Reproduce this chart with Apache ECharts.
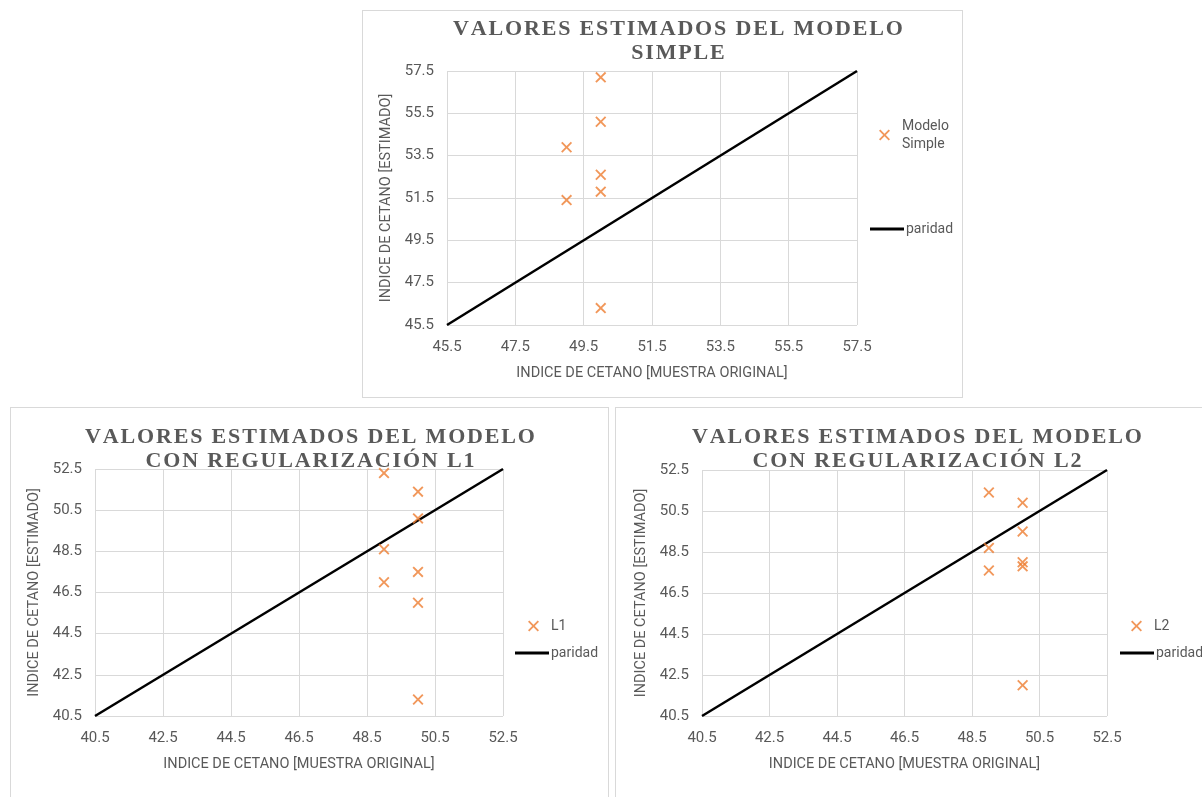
<!DOCTYPE html>
<html>
<head>
<meta charset="utf-8">
<script src="https://cdn.jsdelivr.net/npm/echarts@6/dist/echarts.min.js"></script>
<style>
  html, body { margin: 0; padding: 0; background: #fff; width: 1202px; height: 797px; overflow: hidden; position: relative; }
  .box { position: absolute; box-sizing: border-box; border: 1px solid #d9d9d9; background: #fff; }
  .box > div { width: 100%; height: 100%; }
</style>
</head>
<body>
<div class="box" id="boxSimple" style="left:362px; top:10px; width:601px; height:388px;"><div id="cSimple"></div></div>
<div class="box" id="boxL1" style="left:10px; top:407px; width:599px; height:400px;"><div id="cL1"></div></div>
<div class="box" id="boxL2" style="left:615px; top:407px; width:600px; height:400px;"><div id="cL2"></div></div>
<script>
// Cetane index: original sample (x) vs. model estimate (y)
const simpleX = [50, 50, 49, 50, 50, 49, 50];
const simpleY = [57.2, 55.1, 53.9, 52.6, 51.8, 51.4, 46.3];

const l1X = [49, 50, 50, 49, 50, 49, 50, 50];
const l1Y = [52.3, 51.4, 50.1, 48.6, 47.5, 47.0, 46.0, 41.3];

const l2X = [49, 50, 50, 49, 50, 50, 49, 50];
const l2Y = [51.4, 50.9, 49.5, 48.7, 48.0, 47.8, 47.6, 42.0];

// Axis ranges and tick step
const simpleRange = [45.5, 57.5];
const regRange = [40.5, 52.5];
const tickStep = 2;

const xAxisName = 'INDICE DE CETANO [MUESTRA ORIGINAL]';
const yAxisName = 'INDICE DE CETANO [ESTIMADO]';

const ORANGE = '#ED7D31';
const TEXT = '#595959';
const GRID = '#d9d9d9';
const LABEL_FONT = "'Liberation Sans Narrow', 'Roboto', sans-serif";
const TITLE_FONT = "'Liberation Serif', 'DejaVu Serif', serif";

// X-shaped marker as a filled outline
const CROSS = 'path://M0,1.2L1.2,0L5,3.8L8.8,0L10,1.2L6.2,5L10,8.8L8.8,10L5,6.2L1.2,10L0,8.8L3.8,5Z';

// Wide tracking for the titles
function spaced(s) {
  return s.split('').join('\u200A');
}

function makeChart(el, cfg) {
  const chart = echarts.init(document.getElementById(el), null, { renderer: 'canvas' });
  const pts = cfg.xs.map((x, i) => [x, cfg.ys[i]]);
  const axisCommon = {
    type: 'value',
    min: cfg.range[0],
    max: cfg.range[1],
    interval: tickStep,
    axisLine: { show: false },
    axisTick: { show: false },
    splitLine: { show: true, lineStyle: { color: GRID, width: 1 } },
    axisLabel: {
      color: TEXT, fontFamily: LABEL_FONT, fontSize: 15,
      formatter: v => v.toFixed(1)
    },
    nameLocation: 'middle',
    nameTextStyle: { color: TEXT, fontFamily: LABEL_FONT, fontSize: 14.5 }
  };
  chart.setOption({
    animation: false,
    title: {
      text: cfg.title.map(spaced).join('\n'),
      left: cfg.titleX,
      top: cfg.titleY,
      textAlign: 'center',
      textStyle: {
        fontFamily: TITLE_FONT, fontWeight: 'bold', fontSize: 22,
        color: TEXT, lineHeight: 24
      }
    },
    grid: cfg.grid,
    legend: [
      {
        data: [cfg.name],
        left: cfg.legX, top: cfg.legY1,
        icon: CROSS, itemWidth: 11, itemHeight: 11, itemGap: 10,
        orient: 'vertical',
        formatter: n => n.replace(' ', '\n'),
        textStyle: { color: TEXT, fontFamily: LABEL_FONT, fontSize: 14, lineHeight: 18, padding: [0, 0, 0, 7] },
        itemStyle: { color: ORANGE }
      },
      {
        data: ['paridad'],
        left: cfg.legX2, top: cfg.legY2,
        icon: 'rect', itemWidth: 34, itemHeight: 3, itemGap: 2,
        textStyle: { color: TEXT, fontFamily: LABEL_FONT, fontSize: 14, padding: [0, 0, 0, -3] },
        itemStyle: { color: '#000' }
      }
    ],
    xAxis: Object.assign({}, axisCommon, {
      name: xAxisName, nameGap: 41,
      axisLabel: Object.assign({}, axisCommon.axisLabel, { margin: 15 })
    }),
    yAxis: Object.assign({}, axisCommon, {
      name: yAxisName, nameGap: 49,
      axisLabel: Object.assign({}, axisCommon.axisLabel, { margin: 13 })
    }),
    series: [
      {
        name: cfg.name,
        type: 'scatter',
        symbol: CROSS,
        symbolSize: 11,
        itemStyle: { color: ORANGE },
        data: pts,
        z: 3
      },
      {
        name: 'paridad',
        type: 'line',
        symbol: 'none',
        lineStyle: { color: '#000', width: 2.5 },
        itemStyle: { color: '#000' },
        data: [[cfg.range[0], cfg.range[0]], [cfg.range[1], cfg.range[1]]],
        z: 2
      }
    ]
  });
}

makeChart('cSimple', {
  title: ['VALORES ESTIMADOS DEL MODELO', 'SIMPLE'],
  titleX: 310, titleY: 1,
  grid: { left: 84, top: 60, width: 410, height: 254 },
  xs: simpleX, ys: simpleY, range: simpleRange,
  name: 'Modelo Simple',
  legX: 511, legY1: 101, legX2: 502, legY2: 206
});

makeChart('cL1', {
  title: ['VALORES ESTIMADOS DEL MODELO', 'CON REGULARIZACIÓN L1'],
  titleX: 294, titleY: 12,
  grid: { left: 84, top: 61, width: 408, height: 247 },
  xs: l1X, ys: l1Y, range: regRange,
  name: 'L1',
  legX: 512, legY1: 204, legX2: 499, legY2: 233
});

makeChart('cL2', {
  title: ['VALORES ESTIMADOS DEL MODELO', 'CON REGULARIZACIÓN L2'],
  titleX: 296, titleY: 12,
  grid: { left: 86, top: 62, width: 405, height: 246 },
  xs: l2X, ys: l2Y, range: regRange,
  name: 'L2',
  legX: 510, legY1: 204, legX2: 499, legY2: 233
});
</script>
</body>
</html>
